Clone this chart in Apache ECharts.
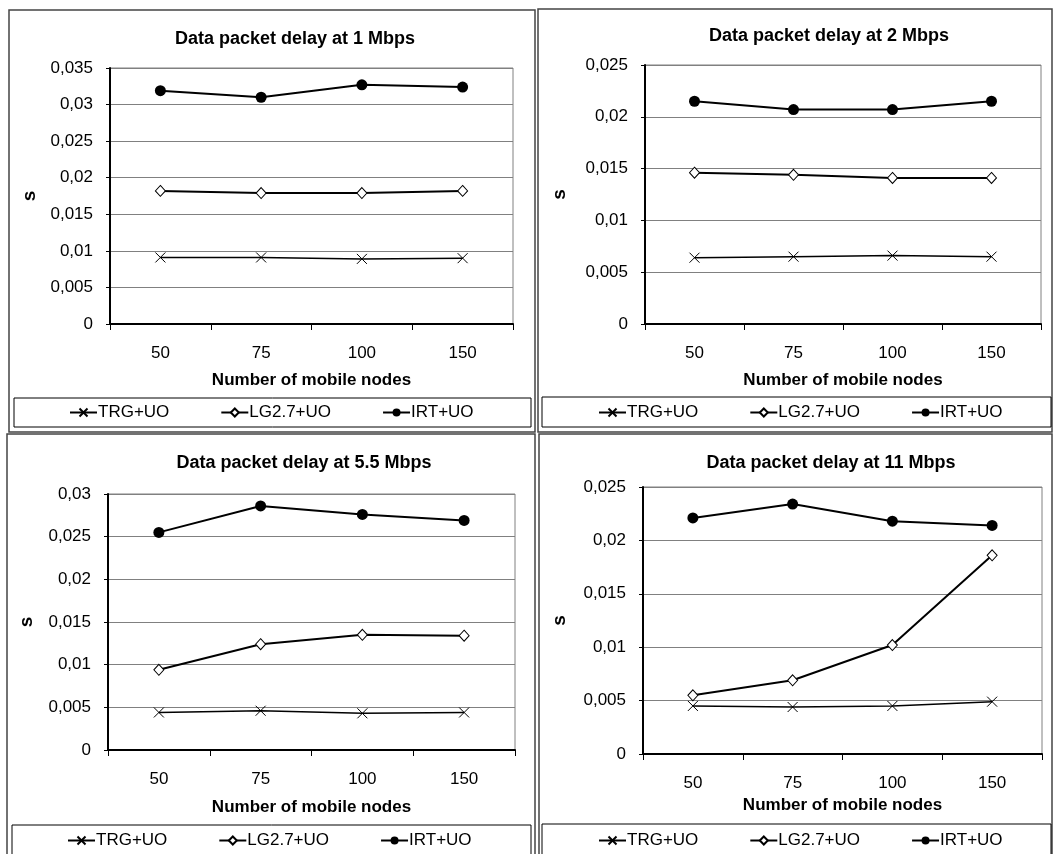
<!DOCTYPE html>
<html>
<head>
<meta charset="utf-8">
<script src="https://cdn.jsdelivr.net/npm/echarts@6/dist/echarts.min.js"></script>
<style>
  html, body { margin: 0; padding: 0; background: #fff; }
  #chart { width: 1054px; height: 854px; }
</style>
</head>
<body>
<div id="chart"></div>
<script>
// Number of mobile nodes (x categories)
const categories = ['50', '75', '100', '150'];
const seriesNames = ['TRG+UO', 'LG2.7+UO', 'IRT+UO'];

// Panel titles and y-axis ranges
const panelTitles = [
  'Data packet delay at 1 Mbps',
  'Data packet delay at 2 Mbps',
  'Data packet delay at 5.5 Mbps',
  'Data packet delay at 11 Mbps'
];
const yMaxes = [0.035, 0.025, 0.03, 0.025];
const yInterval = 0.005;

// Delay (s) at 1 Mbps
const trg1 = [0.0091, 0.0091, 0.0089, 0.0090];
const lg1  = [0.0182, 0.0179, 0.0179, 0.0182];
const irt1 = [0.0319, 0.0310, 0.0327, 0.0324];

// Delay (s) at 2 Mbps
const trg2 = [0.0064, 0.0065, 0.0066, 0.0065];
const lg2  = [0.0146, 0.0144, 0.0141, 0.0141];
const irt2 = [0.0215, 0.0207, 0.0207, 0.0215];

// Delay (s) at 5.5 Mbps
const trg55 = [0.0044, 0.0046, 0.0043, 0.0044];
const lg55  = [0.0094, 0.0124, 0.0135, 0.0134];
const irt55 = [0.0255, 0.0286, 0.0276, 0.0269];

// Delay (s) at 11 Mbps
const trg11 = [0.0045, 0.0044, 0.0045, 0.0049];
const lg11  = [0.0055, 0.0069, 0.0102, 0.0186];
const irt11 = [0.0221, 0.0234, 0.0218, 0.0214];

const panelData = [
  [trg1, lg1, irt1],
  [trg2, lg2, irt2],
  [trg55, lg55, irt55],
  [trg11, lg11, irt11]
];

// Layout of each panel (pixels)
const panels = [
  { frame: [9, 10, 526, 422],  legendBox: [14, 398, 517, 29],  grid: { left: 110, top: 68,  width: 403, height: 256 }, titleX: 290, titleY: 25,  legendLeft: 69,  legendTop: 404, xGap: 56, yGap: 80 },
  { frame: [538, 9, 514, 423], legendBox: [542, 397, 509, 30], grid: { left: 645, top: 65,  width: 396, height: 259 }, titleX: 824, titleY: 22,  legendLeft: 598, legendTop: 404, xGap: 56, yGap: 85 },
  { frame: [7, 434, 528, 440], legendBox: [12, 825, 519, 40],  grid: { left: 108, top: 494, width: 407, height: 256 }, titleX: 299, titleY: 449, legendLeft: 67,  legendTop: 832, xGap: 57, yGap: 81 },
  { frame: [539, 434, 513, 440], legendBox: [542, 824, 509, 40], grid: { left: 643, top: 487, width: 399, height: 267 }, titleX: 826, titleY: 449, legendLeft: 598, legendTop: 832, xGap: 51, yGap: 83 }
];

const FONT = "'Liberation Sans', Arial, sans-serif";
const crossPath = 'path://M0,0L10,10M10,0L0,10';

const symbolStyles = [
  { symbol: crossPath, symbolSize: 10, itemStyle: { color: '#000', borderColor: '#000', borderWidth: 1 }, lineWidth: 1.5 },
  { symbol: 'diamond', symbolSize: [10, 11], itemStyle: { color: '#fff', borderColor: '#000', borderWidth: 1 }, lineWidth: 2 },
  { symbol: 'circle', symbolSize: 11, itemStyle: { color: '#000', borderColor: '#000', borderWidth: 0 }, lineWidth: 2 }
];

const fmt = v => String(+v.toFixed(4)).replace('.', ',');

const option = {
  animation: false,
  backgroundColor: '#fff',
  textStyle: { fontFamily: FONT, color: '#000' },
  title: [],
  legend: [],
  grid: [],
  xAxis: [],
  yAxis: [],
  series: [],
  graphic: []
};

panels.forEach((p, i) => {
  option.graphic.push({
    type: 'rect', silent: true, z: -1,
    shape: { x: p.frame[0], y: p.frame[1], width: p.frame[2], height: p.frame[3] },
    style: { fill: 'none', stroke: '#444', lineWidth: 1.5 }
  });
  option.graphic.push({
    type: 'rect', silent: true, z: -1,
    shape: { x: p.legendBox[0], y: p.legendBox[1], width: p.legendBox[2], height: p.legendBox[3] },
    style: { fill: 'none', stroke: '#000', lineWidth: 1 }
  });

  option.title.push({
    text: panelTitles[i],
    left: p.titleX, top: p.titleY, textAlign: 'center',
    textStyle: { fontFamily: FONT, fontSize: 18, fontWeight: 'bold', color: '#000' }
  });

  option.legend.push({
    data: seriesNames,
    left: p.legendLeft, top: p.legendTop,
    orient: 'horizontal',
    itemWidth: 27, itemHeight: 10, itemGap: 51,
    padding: 0,
    selectedMode: false,
    textStyle: { fontFamily: FONT, fontSize: 17, color: '#000', padding: [0, 0, 0, -4] }
  });

  option.grid.push(Object.assign({ show: true, borderColor: '#808080', borderWidth: 1, backgroundColor: '#fff' }, p.grid));

  option.xAxis.push({
    type: 'category', gridIndex: i, data: categories, boundaryGap: true,
    name: 'Number of mobile nodes', nameLocation: 'middle', nameGap: p.xGap,
    nameTextStyle: { fontFamily: FONT, fontSize: 17, fontWeight: 'bold', color: '#000', verticalAlign: 'middle' },
    axisLine: { lineStyle: { color: '#000', width: 2 } },
    axisTick: { show: true, alignWithLabel: false, length: 6, lineStyle: { color: '#000', width: 1 } },
    axisLabel: { fontFamily: FONT, fontSize: 17, color: '#000', margin: 21 },
    splitLine: { show: false }
  });

  option.yAxis.push({
    type: 'value', gridIndex: i, min: 0, max: yMaxes[i], interval: yInterval,
    name: 's', nameLocation: 'middle', nameGap: p.yGap, nameRotate: 90,
    nameTextStyle: { fontFamily: FONT, fontSize: 19, fontWeight: 'bold', color: '#000', verticalAlign: 'middle', align: 'center' },
    axisLine: { show: true, lineStyle: { color: '#000', width: 2 } },
    axisTick: { show: true, length: 4, lineStyle: { color: '#000', width: 1 } },
    axisLabel: { fontFamily: FONT, fontSize: 17, color: '#000', margin: 17, formatter: fmt },
    splitLine: { show: true, lineStyle: { color: '#808080', width: 1 } }
  });

  panelData[i].forEach((values, k) => {
    const s = symbolStyles[k];
    option.series.push({
      type: 'line', name: seriesNames[k],
      xAxisIndex: i, yAxisIndex: i,
      data: values,
      symbol: s.symbol, symbolSize: s.symbolSize,
      showAllSymbol: true,
      itemStyle: s.itemStyle,
      lineStyle: { color: '#000', width: s.lineWidth },
      emphasis: { disabled: true },
      z: 3 + k
    });
  });
});

const chart = echarts.init(document.getElementById('chart'), null, { renderer: 'canvas' });
chart.setOption(option);
</script>
</body>
</html>
